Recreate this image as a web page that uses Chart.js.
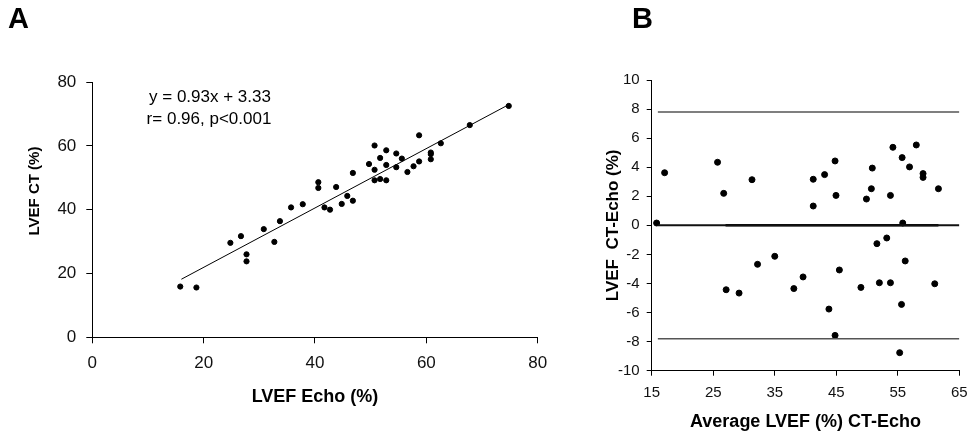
<!DOCTYPE html>
<html>
<head>
<meta charset="utf-8">
<script src="https://cdn.jsdelivr.net/npm/chart.js@4/dist/chart.umd.min.js"></script>
<style>
  body { margin: 0; background: #fff; }
  canvas { position: absolute; top: 0; }
  #chartA { left: 0; }
  #chartB { left: 570px; }
</style>
</head>
<body>
<canvas id="chartA" width="570" height="433"></canvas>
<canvas id="chartB" width="406" height="433"></canvas>
<script>
// panel A: CT vs echo
const echoVals = [15.8, 18.7, 24.8, 26.7, 27.7, 27.7, 30.8, 32.7, 33.7, 35.7, 37.8, 40.6, 40.6, 41.7,
  42.7, 43.8, 44.8, 45.8, 46.8, 46.8, 49.7, 50.7, 50.7, 50.7, 51.7, 51.7, 52.8, 52.8, 52.8, 54.6,
  54.6, 55.6, 56.6, 57.7, 58.7, 58.7, 60.8, 60.8, 60.8, 62.6, 67.8, 74.8]
const ctVals = [15.9, 15.6, 29.6, 31.7, 26.0, 23.8, 33.9, 29.9, 36.4, 40.7, 41.7, 48.6, 46.8, 40.7,
  40.0, 47.1, 41.8, 44.3, 42.8, 51.5, 54.3, 60.1, 52.5, 49.2, 56.2, 49.6, 58.6, 54.0, 49.2, 57.6,
  53.3, 56.0, 51.8, 53.6, 63.3, 55.1, 57.9, 57.4, 55.8, 60.8, 66.5, 72.5]
const fitX = [16, 75]
const fitY = [18.2, 73.1]

// panel B: Bland-Altman
const avgVals = [15.8, 17.1, 25.7, 26.7, 27.1, 29.2, 31.3, 32.2, 35.0, 38.1, 39.6, 41.25, 41.25, 43.1,
  43.8, 44.8, 44.95, 44.8, 45.5, 49.0, 49.9, 50.7, 50.85, 51.6, 52.0, 53.2, 53.8, 53.8, 54.2, 55.3,
  55.6, 55.7, 55.8, 56.2, 56.9, 58.0, 59.1, 59.1, 61.0, 61.6]
const diffVals = [0.16, 3.62, 4.34, 2.20, -4.43, -4.66, 3.14, -2.68, -2.13, -4.35, -3.55, 3.17, 1.33, 3.49,
  -5.76, 4.43, 2.06, -7.57, -3.07, -4.27, 1.81, 2.52, 3.94, -1.26, -3.95, -0.87, 2.06, -3.95, 5.37, -8.76,
  -5.44, 4.66, 0.16, -2.45, 4.02, 5.53, 3.56, 3.30, -4.02, 2.52]
const limitX = [16, 65]
const upperY = [7.8, 7.8]
const lowerY = [-7.8, -7.8]
const zeroY = [0, 0]
const meanX = [27, 61.6]
const meanY = [0, 0]

const FONT = '"Liberation Sans", Arial, sans-serif'
Chart.defaults.font.family = FONT
Chart.defaults.color = '#111'

function pts(xs, ys) {
  return xs.map(function (x, i) { return { x: x, y: ys[i] } })
}

function lineSet(xs, ys, color, width) {
  return { type: 'line', data: pts(xs, ys), borderColor: color, borderWidth: width,
    pointRadius: 0, fill: false, tension: 0 }
}

// draws free text (panel letters, equation, etc.)
const textPlugin = {
  id: 'freeText',
  afterDraw(chart, args, opts) {
    const ctx = chart.ctx
    ;(opts.items || []).forEach(function (t) {
      ctx.save()
      ctx.fillStyle = '#000'
      ctx.font = t.font
      ctx.textAlign = t.align || 'left'
      ctx.textBaseline = t.baseline || 'alphabetic'
      ctx.translate(t.x, t.y)
      if (t.rotate) ctx.rotate(t.rotate)
      ctx.fillText(t.text, 0, 0)
      ctx.restore()
    })
  }
}

function axis(opts) {
  return {
    type: 'linear',
    min: opts.min, max: opts.max,
    border: { display: true, color: '#000', width: 1 },
    grid: { drawOnChartArea: false, drawTicks: true, tickLength: opts.tick, color: '#000' },
    ticks: { stepSize: opts.step, padding: opts.pad, font: { size: opts.size }, color: '#111' },
    title: opts.title,
    afterFit: opts.fit
  }
}

window.addEventListener('load', function () {
  new Chart(document.getElementById('chartA').getContext('2d'), {
    type: 'scatter',
    data: {
      datasets: [
        lineSet(fitX, fitY, '#000', 1),
        { data: pts(echoVals, ctVals), backgroundColor: '#000', borderColor: '#000', pointRadius: 2.6 }
      ]
    },
    options: {
      responsive: false,
      animation: false,
      devicePixelRatio: 1,
      layout: { padding: { left: 0, top: 82, right: 32.3, bottom: 0 } },
      plugins: {
        legend: { display: false },
        tooltip: { enabled: false },
        freeText: {
          items: [
            { text: 'A', x: 8, y: 28, font: 'bold 29px ' + FONT },
            { text: 'y = 0.93x + 3.33', x: 210, y: 101.5, font: '17px ' + FONT, align: 'center' },
            { text: 'r= 0.96, p<0.001', x: 209, y: 124, font: '17px ' + FONT, align: 'center' },
            { text: 'LVEF CT (%)', x: 35, y: 191, font: 'bold 15px ' + FONT, align: 'center',
              baseline: 'middle', rotate: -Math.PI / 2 }
          ]
        }
      },
      scales: {
        x: axis({ min: 0, max: 80, step: 20, tick: 6, pad: 9.5, size: 17,
          title: { display: true, text: 'LVEF Echo (%)', font: { size: 18, weight: 'bold' },
            color: '#000', padding: { top: 0, bottom: 25 } },
          fit: function (s) { s.height = 433 - 337.3 } }),
        y: axis({ min: 0, max: 80, step: 20, tick: 6, pad: 10, size: 17,
          title: { display: false },
          fit: function (s) { s.width = 92.3 } })
      }
    },
    plugins: [textPlugin]
  })

  new Chart(document.getElementById('chartB').getContext('2d'), {
    type: 'scatter',
    data: {
      datasets: [
        lineSet(limitX, upperY, '#555', 1.5),
        lineSet(limitX, lowerY, '#555', 1.5),
        lineSet(limitX, zeroY, '#111', 2),
        lineSet(meanX, meanY, '#000', 2.5),
        { data: pts(avgVals, diffVals), backgroundColor: '#000', borderColor: '#000', pointRadius: 3 }
      ]
    },
    options: {
      responsive: false,
      animation: false,
      devicePixelRatio: 1,
      layout: { padding: { left: 0, top: 80, right: 13.3, bottom: 0 } },
      plugins: {
        legend: { display: false },
        tooltip: { enabled: false },
        freeText: {
          items: [
            { text: 'B', x: 62, y: 28, font: 'bold 29px ' + FONT }
          ]
        }
      },
      scales: {
        x: axis({ min: 15, max: 65, step: 10, tick: 5, pad: 8.3, size: 15,
          title: { display: true, text: 'Average LVEF (%) CT-Echo', font: { size: 18, weight: 'bold' },
            color: '#000', padding: { top: 0, bottom: 0.5 } },
          fit: function (s) { s.height = 433 - 370.7 } }),
        y: axis({ min: -10, max: 10, step: 2, tick: 5, pad: 7, size: 15,
          title: { display: true, text: 'LVEF  CT-Echo (%)', font: { size: 17, weight: 'bold' },
            color: '#000', padding: { top: 32.8, bottom: 0 } },
          fit: function (s) { s.width = 81.7 } })
      }
    },
    plugins: [textPlugin]
  })
})
</script>
</body>
</html>
